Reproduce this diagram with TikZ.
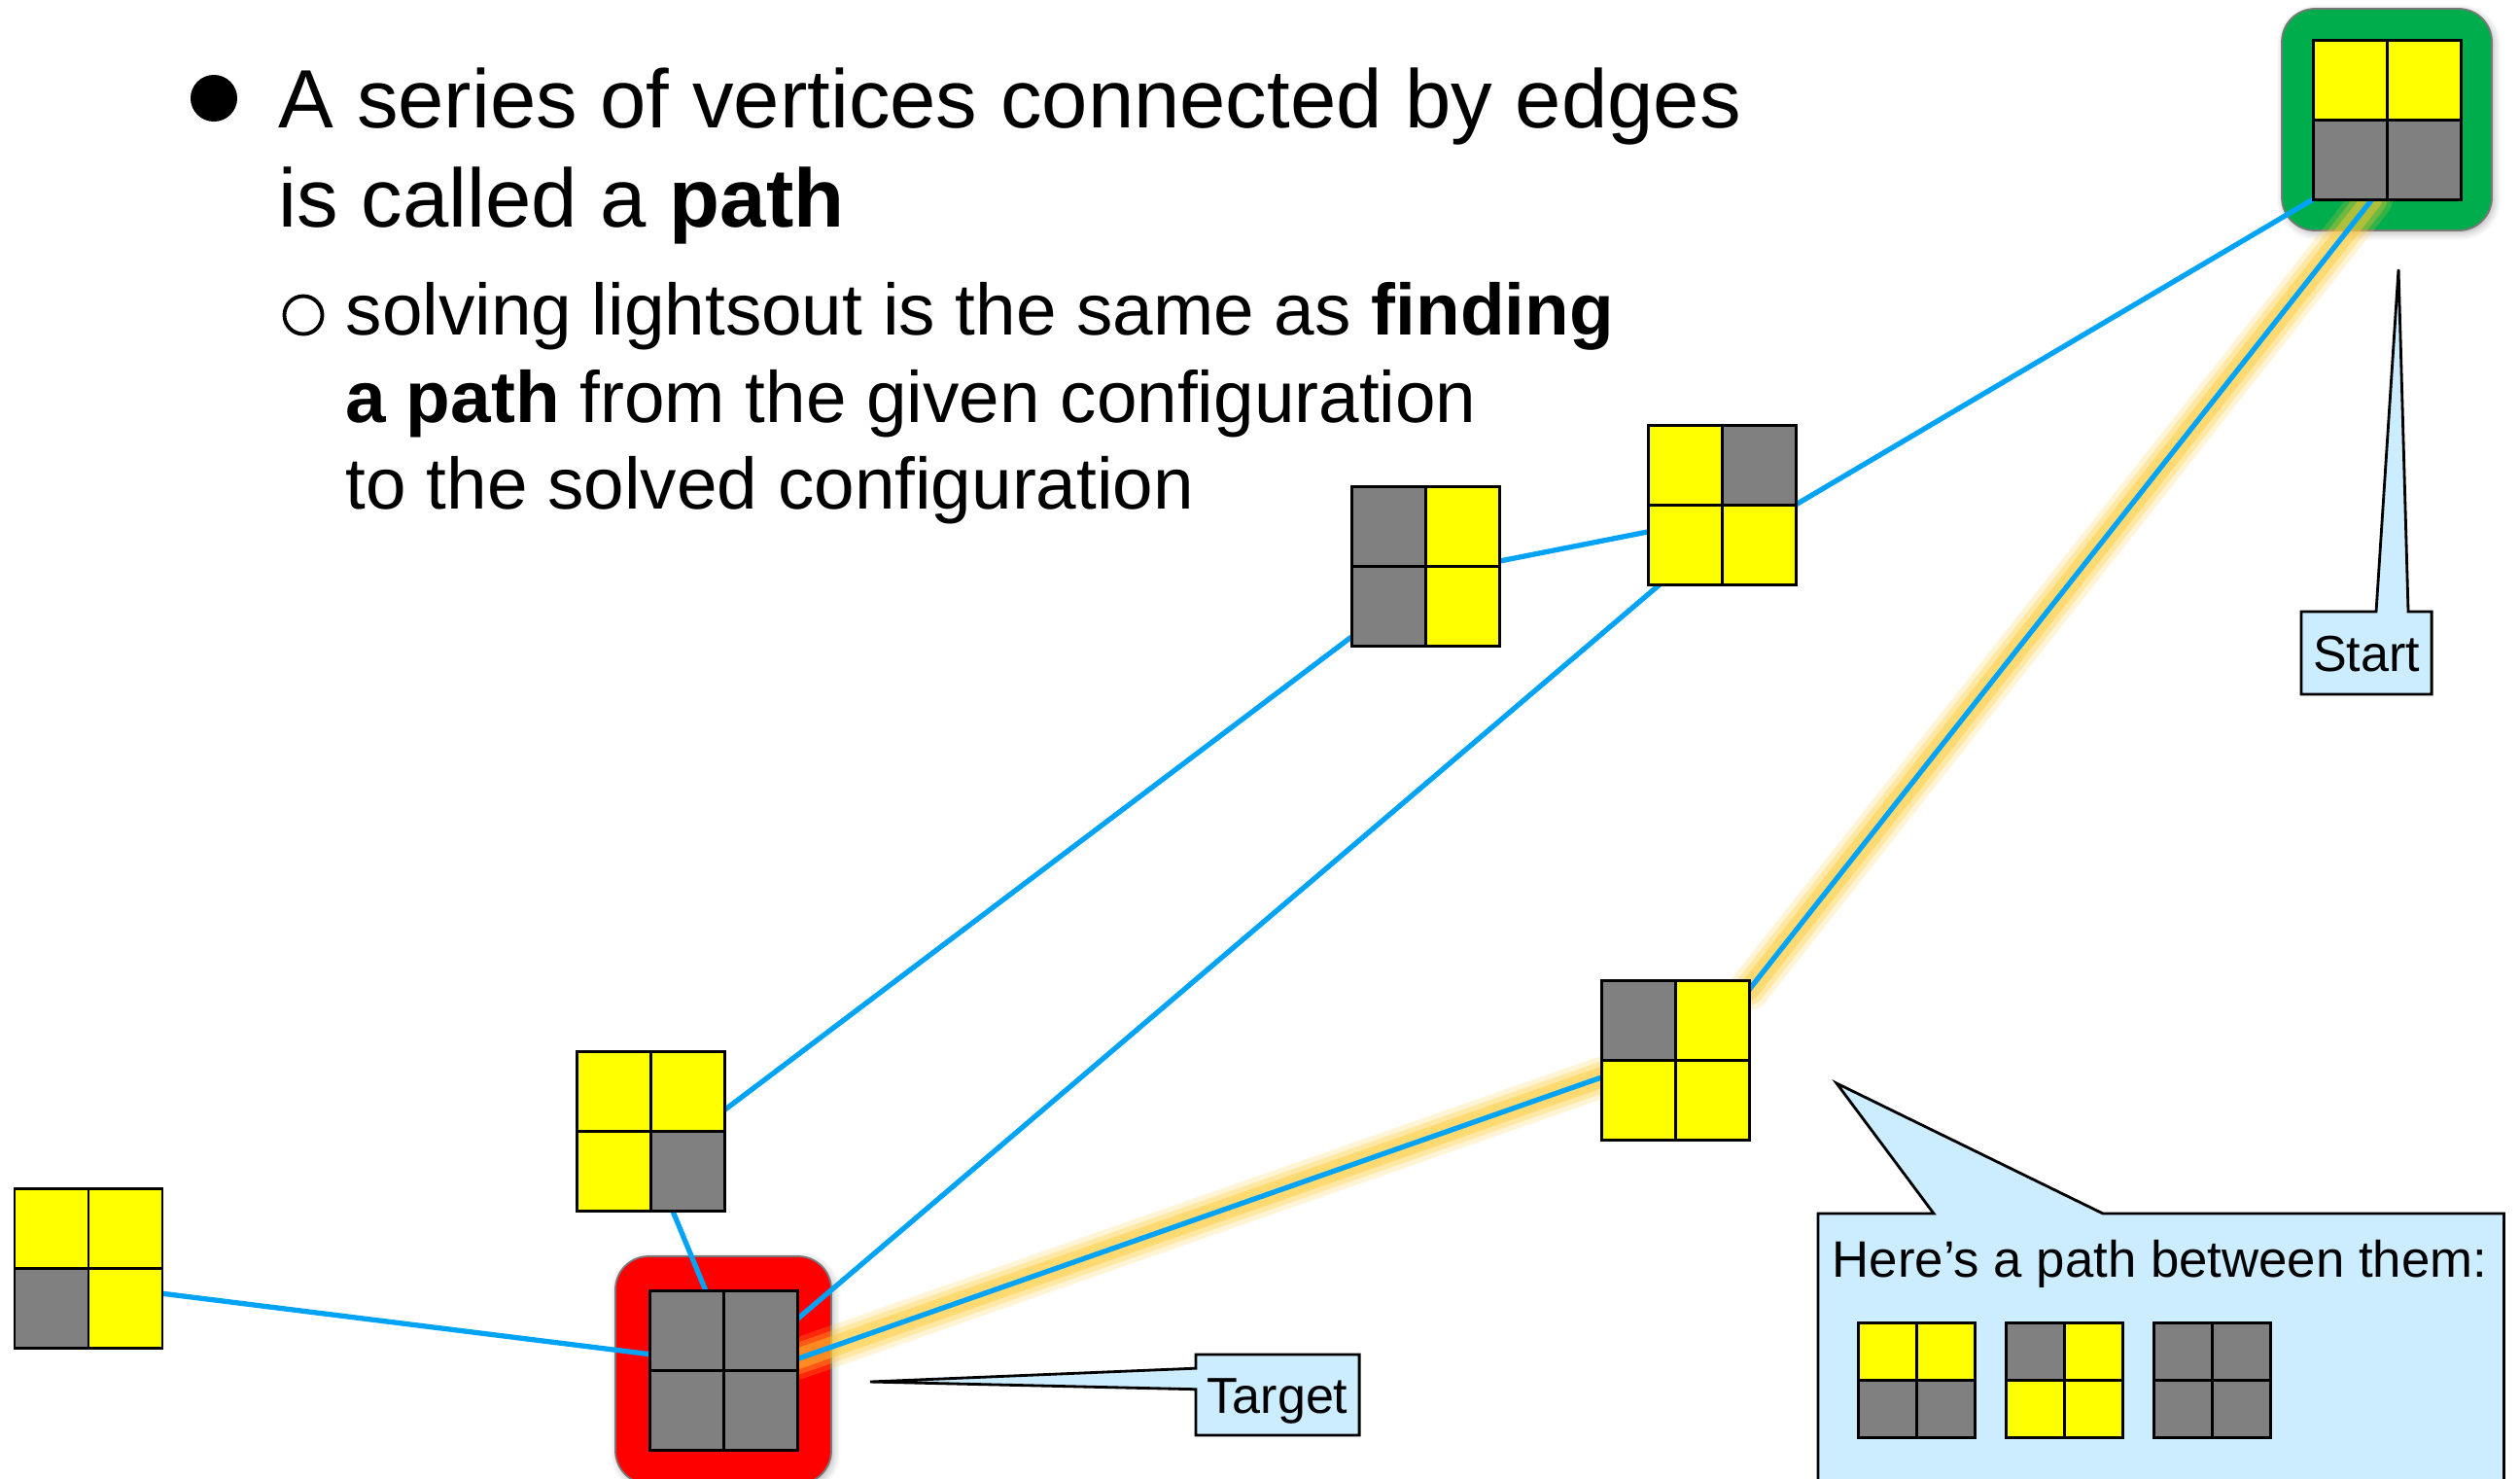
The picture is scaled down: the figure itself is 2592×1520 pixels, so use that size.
\documentclass[tikz,border=0pt]{standalone}
\usepackage{fontspec}
\setmainfont{Liberation Sans}
\usetikzlibrary{calc,fit,shadows.blur}
\definecolor{cellY}{RGB}{255,255,0}
\definecolor{cellG}{RGB}{128,128,128}
\definecolor{edgeblue}{RGB}{0,163,245}
\definecolor{glowc}{RGB}{255,200,50}
\definecolor{startgreen}{RGB}{0,173,77}
\definecolor{targetred}{RGB}{255,0,0}
\definecolor{callfill}{RGB}{204,236,255}
\definecolor{framegray}{RGB}{120,120,120}
\pgfdeclarelayer{frames}
\pgfdeclarelayer{edges}
\pgfsetlayers{frames,edges,main}
\tikzset{
  boardnode/.style={inner sep=0pt, outer sep=0pt, anchor=north west},
  cellline/.style={draw=black, line width=0.85pt},
  frame/.style={draw=framegray, line width=0.5pt, rounded corners=0.34cm,
    blur shadow={shadow xshift=0.6pt, shadow yshift=-0.8pt, shadow opacity=30, shadow blur steps=6}},
  edge/.style={draw=edgeblue, line width=1.5pt},
  callout/.style={draw=black, fill=callfill, line width=0.8pt, line join=miter},
  calbox/.style={inner sep=0pt, outer sep=0pt, anchor=north west, text height=0.37cm, text depth=0pt,
    font=\fontsize{14.8pt}{17pt}\selectfont},
  bigtext/.style={anchor=base west, inner sep=0pt, font=\fontsize{24.2pt}{29pt}\selectfont},
  subtext/.style={anchor=base west, inner sep=0pt, font=\fontsize{21.25pt}{25.6pt}\selectfont},
}
\newcommand{\lboard}[9]{%
  \node[boardnode, minimum width=#4*0.01cm, minimum height=#5*0.01cm] (#1) at (#2,#3) {};
  \fill[#6] (#1.north west) rectangle (#1.center);
  \fill[#7] (#1.north) rectangle (#1.east);
  \fill[#8] (#1.west) rectangle (#1.south);
  \fill[#9] (#1.center) rectangle (#1.south east);
  \draw[cellline] (#1.north) -- (#1.south) (#1.west) -- (#1.east);
  \draw[cellline] (#1.north west) rectangle (#1.south east);
}
\newcommand{\glowline}[2]{%
  \draw[glowc, line width=12pt, opacity=0.2, line cap=round] (#1) -- (#2);
  \draw[glowc, line width=9pt, opacity=0.3, line cap=round] (#1) -- (#2);
  \draw[glowc, line width=6pt, opacity=0.45, line cap=round] (#1) -- (#2);
}
\begin{document}
\begin{tikzpicture}[x=0.01cm, y=-0.01cm]
\useasboundingbox (0,0) rectangle (2592,1520);

% text
\node[circle, fill=black, inner sep=0pt, minimum size=0.48cm] (dot1) at (220,101) {};
\node[bigtext] (l1) at (286,131) {A series of vertices connected by edges};
\node[bigtext] (l2) at (286,233) {is called a \textbf{path}};
\node[circle, draw=black, line width=1.1pt, inner sep=0pt, minimum size=0.39cm] (dot2) at (312,324) {};
\node[subtext] (s1) at (355,344) {solving lightsout is the same as \textbf{finding}};
\node[subtext] (s2) at (355,434) {\textbf{a path} from the given configuration};
\node[subtext] (s3) at (355,523) {to the solved configuration};

% boards
\lboard{start}{2379}{41}{152}{164}{cellY}{cellY}{cellG}{cellG}
\lboard{b2}{1695}{437}{152}{164}{cellY}{cellG}{cellY}{cellY}
\lboard{b3}{1390}{500}{152}{164}{cellG}{cellY}{cellG}{cellY}
\lboard{b4}{1647}{1008}{152}{164}{cellG}{cellY}{cellY}{cellY}
\lboard{b5}{593}{1081}{152}{164}{cellY}{cellY}{cellY}{cellG}
\lboard{b6}{15}{1222}{152}{164}{cellY}{cellY}{cellG}{cellY}
\lboard{target}{668}{1327}{152}{164}{cellG}{cellG}{cellG}{cellG}

% highlight frames
\begin{pgfonlayer}{frames}
\node[frame, fill=startgreen, fit=(start), inner sep=0.32cm] (startframe) {};
\node[frame, fill=targetred, fit=(target), inner sep=0.35cm] (targetframe) {};
\end{pgfonlayer}

% edge end points
\coordinate (e2a) at ($(start.south west)!0.40!(start.south east)$);
\coordinate (e2b) at ($(b4.north east)!0.06!(b4.south east)$);
\coordinate (e8a) at ($(b4.north west)!0.61!(b4.south west)$);
\coordinate (e8b) at ($(target.north east)!0.43!(target.south east)$);

\begin{pgfonlayer}{edges}
\glowline{e2a}{e2b}
\glowline{e8a}{e8b}
\draw[edge] (start.south west) -- (b2.east);
\draw[edge] (e2a) -- (e2b);
\draw[edge] ($(b2.north west)!0.67!(b2.south west)$) -- ($(b3.north east)!0.47!(b3.south east)$);
\draw[edge] ($(b2.south west)!0.08!(b2.south east)$) -- ($(target.north east)!0.18!(target.south east)$);
\draw[edge] ($(b3.north west)!0.945!(b3.south west)$) -- ($(b5.north east)!0.37!(b5.south east)$);
\draw[edge] ($(b5.south west)!0.65!(b5.south east)$) -- ($(target.north west)!0.38!(target.north east)$);
\draw[edge] ($(b6.north east)!0.66!(b6.south east)$) -- ($(target.north west)!0.40!(target.south west)$);
\draw[edge] (e8a) -- (e8b);
\end{pgfonlayer}

% callouts
\node[calbox, minimum width=1.34cm, minimum height=0.85cm] (startlbl) at (2367,629) {Start};
\coordinate (starttip) at (2467,277);
\node[calbox, minimum width=1.68cm, minimum height=0.83cm] (targetlbl) at (1230,1393) {Target};
\coordinate (targettip) at (895,1421);
\node[inner sep=0pt, outer sep=0pt, anchor=north west, minimum width=7.05cm, minimum height=3.0cm] (pathbox) at (1870,1248) {};
\coordinate (pathtip) at (1889,1114);

\begin{pgfonlayer}{edges}
\draw[callout] (startlbl.north west) -- ($(startlbl.north west)+(77,0)$) -- (starttip)
  -- ($(startlbl.north west)+(110,0)$) -- (startlbl.north east) -- (startlbl.south east)
  -- (startlbl.south west) -- cycle;
\draw[callout] (targetlbl.north west) -- (targetlbl.north east) -- (targetlbl.south east)
  -- (targetlbl.south west) -- ($(targetlbl.north west)!0.43!(targetlbl.south west)$)
  -- (targettip) -- ($(targetlbl.north west)!0.17!(targetlbl.south west)$) -- cycle;
\draw[callout] (pathbox.north west) -- ($(pathbox.north west)+(119,0)$) -- (pathtip)
  -- ($(pathbox.north west)+(293,0)$) -- (pathbox.north east) -- (pathbox.south east)
  -- (pathbox.south west) -- cycle;
\end{pgfonlayer}

\node[anchor=base west, inner sep=0pt, font=\fontsize{15pt}{18pt}\selectfont] (heretext) at (1884,1313) {Here’s a path between them:};
\lboard{s1}{1911}{1360}{120}{118}{cellY}{cellY}{cellG}{cellG}
\lboard{s2}{2063}{1360}{120}{118}{cellG}{cellY}{cellY}{cellY}
\lboard{s3}{2215}{1360}{120}{118}{cellG}{cellG}{cellG}{cellG}
\end{tikzpicture}
\end{document}
